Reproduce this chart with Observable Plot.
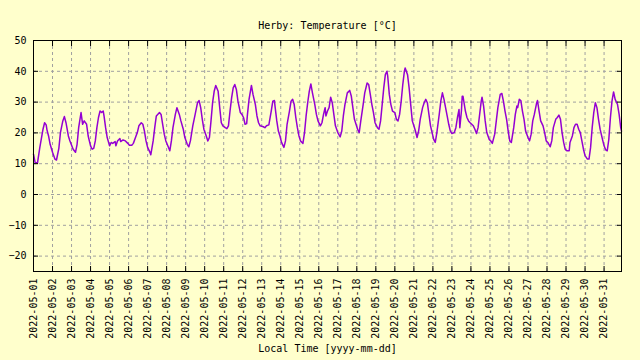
<!DOCTYPE html>
<html><head><meta charset="utf-8">
<script src="https://cdn.jsdelivr.net/npm/d3@7"></script>
<script src="https://cdn.jsdelivr.net/npm/@observablehq/plot@0.6"></script>
<style>
html,body{margin:0;padding:0;background:#ffffcc;}
</style></head><body><div id="chart"></div>
<script>
const title = "Herby: Temperature [°C]";
const xLabel = "Local Time [yyyy-mm-dd]";
const startTime = "2022-05-01T00:00:00Z";
const yTicks = [-20, -10, 0, 10, 20, 30, 40, 50];
const hours = [
0,2,5,8,12,14,16,17,19,21,24,27,29,32,34,37,39,41,44,46,50,53,55,57,60,62,64,67,69,72,74,76,78,80,82,84,86,88,89,91,93,96,98,100,103,104,106,109,110,113,116,119,121,124,126,128,131,133,136,138,140,142,144,147,148,
151,153,155,159,161,163,165,167,170,172,174,176,179,181,184,186,189,191,194,196,198,201,204,207,209,211,213,215,218,220,222,224,226,228,230,233,235,237,239,242,244,246,248,250,252,254,256,258,261,263,265,267,269,270,272,275,277,280,282,284,286,290,292,294,297,
300,302,304,305,307,309,311,313,316,318,320,323,325,327,329,331,333,335,337,340,342,344,346,348,350,352,355,357,359,362,364,366,368,369,371,373,375,377,379,381,384,387,389,391,393,396,399,401,403,405,407,409,411,413,416,418,421,423,425,427,429,431,434,436,438,440,442,444,446,447,449,451,453,
456,458,460,462,464,466,468,469,472,474,476,478,480,482,484,486,488,491,493,495,497,499,501,503,505,507,509,512,514,516,518,520,522,524,526,528,531,533,535,537,538,540,541,542,545,547,549,551,553,555,557,559,561,563,565,566,568,570,572,575,577,579,582,584,586,589,591,593,595,597,599,601,603,
606,608,610,611,613,615,617,619,621,624,626,628,630,632,635,636,638,640,643,645,647,649,652,654,656,659,661,663,665,667,669,671,673,676,677,680,682,684,686,688,690,692,694,696,699,701,703,705,707,709,711,713,715,718,720,722,724,726,728,730,732,734,737,739,741,742
];
const temps = [
13.1,10.4,10.2,15.3,21.2,23.3,22.6,21.0,19.0,16.3,13.7,11.5,11.2,15.0,20.1,23.9,25.3,23.3,19.0,17.4,14.7,13.7,16.3,21.7,26.6,22.8,23.9,22.8,19.0,15.8,14.7,15.0,17.4,21.7,25.0,27.1,26.6,27.1,25.5,21.7,18.5,15.8,16.9,16.6,17.2,15.8,17.4,18.2,17.2,17.7,17.4,16.6,16.0,16.0,16.6,18.0,20.1,22.3,23.3,22.8,20.6,17.4,15.3,13.7,12.9,
17.4,21.7,25.5,26.6,26.0,22.8,19.6,17.4,15.5,14.2,17.4,21.7,26.0,28.2,26.0,23.9,21.2,18.5,16.3,15.5,17.4,22.3,26.0,29.8,30.5,28.2,24.4,21.2,19.0,17.4,18.5,23.9,29.8,33.5,35.4,33.5,28.2,23.3,22.3,21.7,21.4,22.3,27.1,31.4,34.6,35.7,34.1,30.3,26.6,26.0,25.0,22.8,23.0,26.0,30.9,35.4,32.5,29.2,25.5,23.3,22.3,22.0,21.7,22.3,22.6,
27.1,30.3,30.5,28.2,23.9,20.6,19.0,16.9,15.3,17.4,22.8,27.1,30.3,30.9,29.2,25.0,21.7,19.0,17.4,16.6,20.1,25.5,29.8,33.5,35.9,33.0,29.2,26.0,23.9,22.3,23.3,26.0,28.2,25.5,27.1,28.2,31.6,29.8,26.0,22.3,20.1,18.7,20.6,25.5,29.2,33.0,33.8,32.0,28.2,24.4,22.8,21.2,20.1,23.9,29.2,33.0,36.2,35.7,32.5,29.2,26.6,23.3,21.7,21.2,23.9,29.2,34.6,38.9,40.0,38.4,32.5,29.2,27.1,
26.6,24.4,23.9,26.0,30.3,35.7,40.0,41.1,38.9,34.6,29.2,23.9,22.3,20.6,18.5,20.6,24.4,28.2,29.8,30.9,29.8,26.0,22.3,20.1,17.9,16.9,20.1,26.0,30.3,33.0,30.9,28.2,25.5,22.8,20.6,19.8,20.1,21.7,25.0,27.6,21.7,27.1,31.9,31.9,27.1,25.0,23.9,23.3,22.8,22.3,21.2,19.8,21.7,26.0,30.3,31.6,28.7,23.9,20.1,17.9,17.4,16.6,19.6,23.9,28.2,32.5,32.8,30.3,27.1,24.4,20.6,17.4,16.9,
21.7,26.0,28.7,28.2,30.9,30.5,27.1,24.4,20.6,18.5,17.4,19.6,23.9,26.0,29.8,30.5,27.1,23.9,22.3,20.1,17.4,16.9,15.5,17.4,21.7,24.4,25.0,25.8,24.4,20.1,16.9,14.7,14.2,14.2,16.9,19.0,21.7,22.8,22.8,21.2,20.1,17.4,14.7,12.6,11.5,11.5,15.3,21.7,26.6,29.8,28.2,24.4,21.2,17.9,15.8,14.5,14.2,17.9,24.9,30.3,33.3,30.9,29.2,26.0,21.7,20.6
];

const t0 = new Date(startTime);
const data = hours.map((h, i) => ({time: new Date(+t0 + h * 3600e3), temp: temps[i]}));
const xDomain = d3.extent(data, d => d.time);
const dayTicks = d3.utcDay.range(t0, new Date(+xDomain[1] + 1));
const fmt = d3.utcFormat("%Y-%m-%d");
const gridStyle = {stroke: "#a0a0a0", strokeOpacity: 1, strokeWidth: 1, strokeDasharray: "3,3"};

const chart = Plot.plot({
  width: 640, height: 360,
  marginLeft: 33, marginRight: 19, marginTop: 40, marginBottom: 89,
  style: {background: "#ffffcc", fontFamily: "'DejaVu Sans Mono', monospace", fontSize: "10px", color: "black"},
  x: {type: "utc", domain: xDomain},
  y: {domain: [-25, 50]},
  marks: [
    Plot.gridX(dayTicks, gridStyle),
    Plot.gridY(yTicks, gridStyle),
    Plot.line(data, {x: "time", y: "temp", stroke: "#9400d3", strokeWidth: 1.5}),
    Plot.frame({stroke: "black"}),
    Plot.axisX(dayTicks, {anchor: "bottom", tickSize: -5, tickPadding: 12, tickRotate: -90, tickFormat: fmt, label: null}),
    Plot.axisX(dayTicks, {anchor: "top", tickSize: -5, tickFormat: () => "", label: null}),
    Plot.axisY(yTicks, {anchor: "left", tickSize: -5, tickPadding: 12, label: null}),
    Plot.axisY(yTicks, {anchor: "right", tickSize: -5, tickFormat: () => "", label: null}),
    Plot.text([title], {frameAnchor: "top", dy: -19, text: d => d, fill: "black"}),
    Plot.text([xLabel], {frameAnchor: "bottom", dy: 80, text: d => d, fill: "black"})
  ]
});
document.getElementById("chart").appendChild(chart);
</script>
</body></html>
